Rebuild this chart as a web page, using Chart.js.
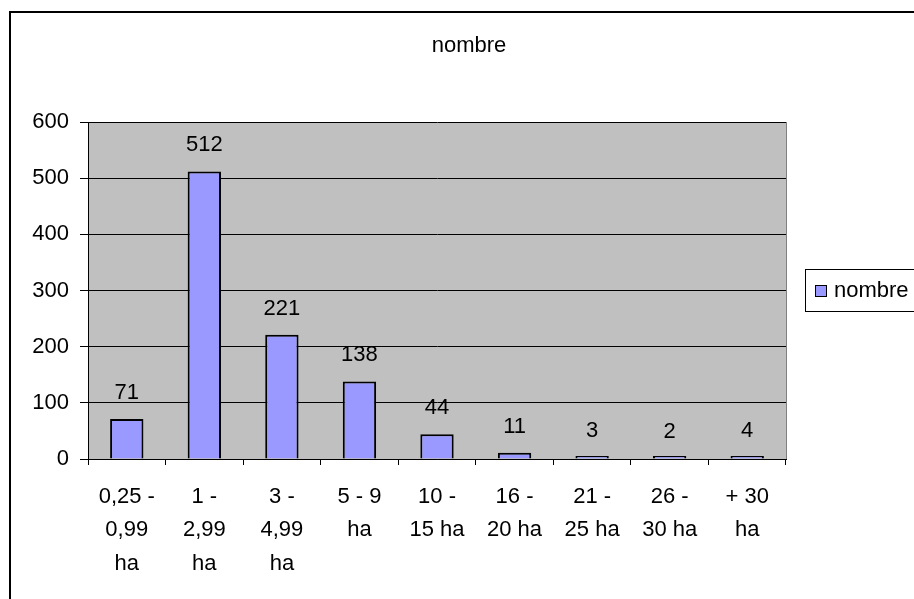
<!DOCTYPE html>
<html>
<head>
<meta charset="utf-8">
<script src="https://cdn.jsdelivr.net/npm/chart.js@4/dist/chart.umd.min.js"></script>
<style>
  html, body { margin: 0; padding: 0; background: #fff; overflow: hidden; }
  #wrap { position: relative; width: 914px; height: 599px; }
</style>
</head>
<body>
<div id="wrap"><canvas id="chart" width="914" height="599"></canvas></div>
<script>
const categories = [
    ['0,25 -', '0,99', 'ha'],
    ['1 -', '2,99', 'ha'],
    ['3 -', '4,99', 'ha'],
    ['5 - 9', 'ha'],
    ['10 -', '15 ha'],
    ['16 -', '20 ha'],
    ['21 -', '25 ha'],
    ['26 -', '30 ha'],
    ['+ 30', 'ha']
];
const nombre = [71, 512, 221, 138, 44, 11, 3, 2, 4];
const yTicks = [0, 100, 200, 300, 400, 500, 600];

const FONT = '"Liberation Sans", Arial, sans-serif';
const SIZE = 22;

// frame, grey plot background, title and legend
const excelLook = {
    id: 'excelLook',
    beforeDraw(chart) {
        const ctx = chart.ctx;
        const a = chart.chartArea;
        ctx.save();
        ctx.fillStyle = '#fff';
        ctx.fillRect(0, 0, chart.width, chart.height);
        ctx.strokeStyle = '#000';
        ctx.lineWidth = 2;
        ctx.strokeRect(10, 12, chart.width + 20, chart.height + 20);
        ctx.fillStyle = '#c0c0c0';
        ctx.fillRect(a.left, a.top, a.right - a.left, a.bottom - a.top);
        ctx.strokeStyle = '#808080';
        ctx.lineWidth = 1;
        ctx.beginPath();
        ctx.moveTo(a.right + 0.5, a.top);
        ctx.lineTo(a.right + 0.5, a.bottom);
        ctx.stroke();
        ctx.restore();
    },
    afterDraw(chart) {
        const ctx = chart.ctx;
        ctx.save();
        ctx.fillStyle = '#000';
        ctx.font = SIZE + 'px ' + FONT;
        ctx.textAlign = 'center';
        ctx.textBaseline = 'middle';
        ctx.fillText('nombre', 469, 46);

        // legend
        ctx.strokeStyle = '#000';
        ctx.lineWidth = 1;
        ctx.strokeRect(805.5, 269.5, 130, 42);
        ctx.fillStyle = '#9999ff';
        ctx.fillRect(815, 285, 11, 11);
        ctx.strokeRect(815.5, 285.5, 11, 11);
        ctx.fillStyle = '#000';
        ctx.textAlign = 'left';
        ctx.fillText('nombre', 834, 291);
        ctx.restore();
    }
};

// value labels above the bars
const barLabels = {
    id: 'barLabels',
    afterDatasetsDraw(chart) {
        const ctx = chart.ctx;
        const meta = chart.getDatasetMeta(0);
        ctx.save();
        ctx.fillStyle = '#000';
        ctx.font = SIZE + 'px ' + FONT;
        ctx.textAlign = 'center';
        ctx.textBaseline = 'alphabetic';
        meta.data.forEach((bar, i) => {
            const y = chart.scales.y.getPixelForValue(nombre[i]);
            ctx.fillText(String(nombre[i]), bar.x, y - 20);
        });
        ctx.restore();
    }
};

new Chart(document.getElementById('chart'), {
    type: 'bar',
    data: {
        labels: categories,
        datasets: [{
            label: 'nombre',
            data: nombre,
            backgroundColor: '#9999ff',
            borderColor: '#000',
            borderWidth: 2,
            minBarLength: 3,
            categoryPercentage: 1,
            barPercentage: 0.43
        }]
    },
    options: {
        responsive: false,
        animation: false,
        layout: {
            padding: { left: 10, right: 128, top: 122, bottom: 0 }
        },
        scales: {
            x: {
                offset: true,
                grid: {
                    display: true,
                    drawOnChartArea: false,
                    drawTicks: true,
                    tickLength: 6,
                    color: '#000',
                    offset: true
                },
                border: { display: true, color: '#000', width: 1 },
                ticks: {
                    color: '#000',
                    font: { family: FONT, size: SIZE, lineHeight: 1.52 },
                    padding: 15,
                    maxRotation: 0,
                    autoSkip: false
                },
                afterFit(scale) { scale.height = 140; }
            },
            y: {
                min: 0,
                max: 600,
                afterBuildTicks(scale) {
                    scale.ticks = yTicks.map(v => ({ value: v }));
                },
                grid: {
                    color: '#000',
                    lineWidth: 1,
                    tickLength: 8
                },
                border: { display: true, color: '#000', width: 1 },
                ticks: {
                    color: '#000',
                    font: { family: FONT, size: SIZE },
                    padding: 11
                },
                afterFit(scale) { scale.width = 78; }
            }
        },
        plugins: {
            legend: { display: false },
            title: { display: false },
            tooltip: { enabled: false }
        }
    },
    plugins: [excelLook, barLabels]
});
</script>
</body>
</html>
